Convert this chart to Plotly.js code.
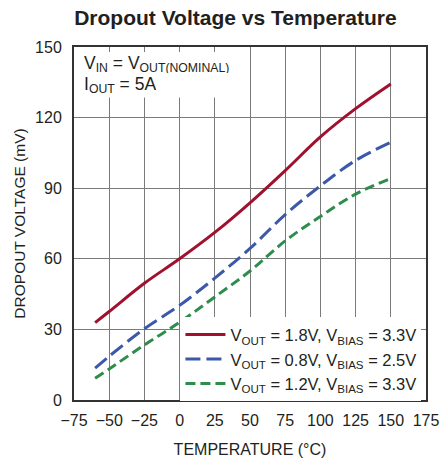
<!DOCTYPE html>
<html>
<head>
<meta charset="utf-8">
<script src="https://cdn.plot.ly/plotly-3.0.1.min.js"></script>
<style>html,body{margin:0;padding:0;background:#fff;}#chart{width:440px;height:461px;}</style>
</head>
<body>
<div id="chart"></div>
<script>
const temperature = [-60, -50, -25, 0, 25, 50, 75, 100, 125, 150];
const vout18 = [32.9, 37.6, 49.6, 60.0, 71.2, 83.8, 97.5, 111.8, 123.8, 134.3];
const vout08 = [13.5, 18.6, 30.3, 40.2, 51.8, 64.4, 78.8, 91.0, 101.8, 109.5];
const vout12 = [9.2, 13.2, 23.4, 33.0, 43.8, 54.8, 67.6, 78.0, 87.5, 94.1];
const seriesNames = [
  "V<sub>OUT</sub> = 1.8V, V<sub>BIAS</sub> = 3.3V",
  "V<sub>OUT</sub> = 0.8V, V<sub>BIAS</sub> = 2.5V",
  "V<sub>OUT</sub> = 1.2V, V<sub>BIAS</sub> = 3.3V"
];
const xTicks = [-75, -50, -25, 0, 25, 50, 75, 100, 125, 150, 175];
const xTickText = ["\u221275", "\u221250", "\u221225", "0", "25", "50", "75", "100", "125", "150", "175"];
const yTicks = [0, 30, 60, 90, 120, 150];
const noteLines = ["V<sub>IN</sub> = V<sub>OUT(NOMINAL)</sub>", "I<sub>OUT</sub> = 5A"];

const FONT = "'Liberation Sans', Arial, sans-serif";

const traces = [
  {x: temperature, y: vout18, name: seriesNames[0], mode: 'lines',
   line: {color: '#a0112e', width: 3, shape: 'spline'}},
  {x: temperature, y: vout08, name: seriesNames[1], mode: 'lines',
   line: {color: '#3b58aa', width: 3, shape: 'spline', dash: '15px,6px'}},
  {x: temperature, y: vout12, name: seriesNames[2], mode: 'lines',
   line: {color: '#2e8c4c', width: 3, shape: 'spline', dash: '10px,5px'}}
];

const layout = {
  width: 440, height: 461,
  margin: {l: 74, r: 14, t: 47, b: 61},
  paper_bgcolor: '#fff', plot_bgcolor: '#fff',
  font: {family: FONT, size: 16, color: '#231f20'},
  title: {text: 'Dropout Voltage vs Temperature', x: 0.535, xanchor: 'center',
          y: 0.962, yanchor: 'middle', font: {family: FONT, size: 21, weight: 'bold', color: '#231f20'}},
  xaxis: {range: [-75, 175], tickvals: xTicks, ticktext: xTickText, tickangle: 0,
          showgrid: true, gridcolor: '#7a7a7a', gridwidth: 1,
          showline: true, linecolor: '#333', linewidth: 2, mirror: 'allticks',
          ticks: 'inside', ticklen: 5, tickcolor: '#7a7a7a', zeroline: false,
          tickfont: {size: 16}, ticklabelstandoff: 5,
          title: {text: 'TEMPERATURE (\u00B0C)', font: {size: 16}, standoff: 16}},
  yaxis: {range: [0, 150], tickvals: yTicks,
          showgrid: true, gridcolor: '#7a7a7a', gridwidth: 1,
          showline: true, linecolor: '#333', linewidth: 2, mirror: 'allticks',
          ticks: 'inside', ticklen: 5, tickcolor: '#7a7a7a', zeroline: false,
          tickfont: {size: 16}, ticklabelstandoff: 7,
          title: {text: 'DROPOUT VOLTAGE (mV)', font: {size: 15.5}, standoff: 6}},
  legend: {x: 0.987, xanchor: 'right', y: 0.234, yanchor: 'top',
           bgcolor: '#fff', borderwidth: 0, font: {size: 16.5}, itemwidth: 40,
           tracegroupgap: 0},
  shapes: [
    {type: 'rect', xref: 'x', yref: 'y', x0: -75, x1: 43, y0: 128.5, y1: 150,
     fillcolor: '#fff', line: {width: 0}, layer: 'between'}
  ],
  annotations: [
    {xref: 'paper', yref: 'paper', x: 0.024, y: 0.953, xanchor: 'left', yanchor: 'middle',
     align: 'left', valign: 'middle', height: 18, showarrow: false, text: noteLines[0], font: {size: 17.5}},
    {xref: 'paper', yref: 'paper', x: 0.024, y: 0.893, xanchor: 'left', yanchor: 'middle',
     align: 'left', valign: 'middle', height: 18, showarrow: false, text: noteLines[1], font: {size: 17.5}}
  ],
  showlegend: true
};

Plotly.newPlot('chart', traces, layout, {staticPlot: true, displayModeBar: false});
</script>
</body>
</html>
